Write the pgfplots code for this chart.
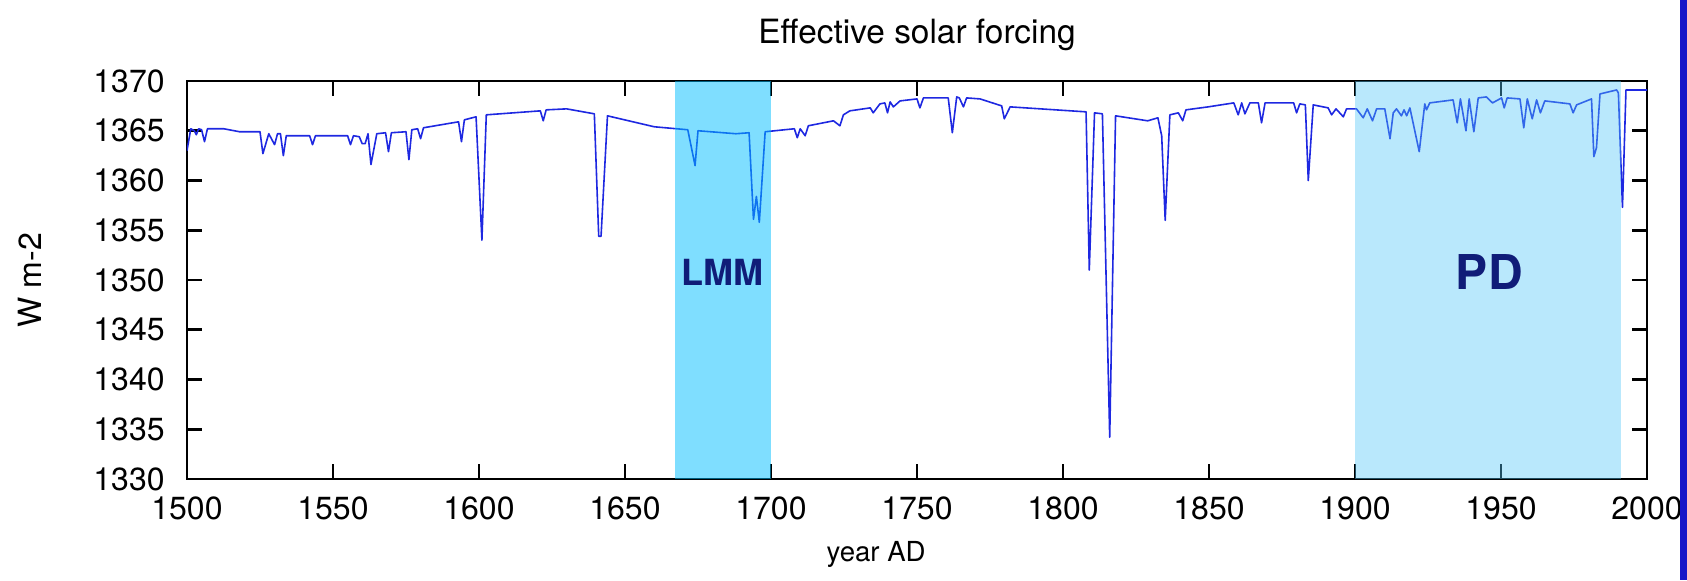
\documentclass[border=0pt]{standalone}
\usepackage{fontspec}
\setmainfont{TeX Gyre Heros}
\usepackage{pgfplots}
\pgfplotsset{compat=1.18}

\definecolor{curveblue}{RGB}{30,40,225}
\definecolor{lmmshade}{RGB}{0,190,255}
\definecolor{pdshade}{RGB}{80,197,247}
\definecolor{labelnavy}{RGB}{16,28,120}
\definecolor{stripblue}{RGB}{22,22,200}

\begin{document}
\begin{tikzpicture}
\useasboundingbox (-93.5pt,-50.5pt) rectangle (750pt,239.5pt);
\begin{axis}[
    at={(0,0)}, anchor=south west,
    width=730pt, height=199pt, scale only axis,
    xmin=1500, xmax=2000, ymin=1330, ymax=1370,
    xtick={1500,1550,...,2000},
    ytick={1330,1335,...,1370},
    tick align=inside,
    major tick length=7.5pt,
    axis line style={line width=1.3pt},
    tick style={black, line width=1.3pt},
    /pgf/number format/1000 sep={},
    /pgf/number format/assume math mode=true,
    ticklabel style={font=\fontsize{16}{19}\selectfont},
    xticklabel style={anchor=center, inner sep=0pt, yshift=-14.5pt},
    yticklabel style={anchor=east, inner sep=0pt, xshift=-11pt},
    title={Effective solar forcing},
    title style={at={(axis description cs:0.5,1.1156)}, anchor=center, yshift=-6pt, font=\fontsize{16.7}{19}\selectfont},
    xlabel={year AD},
    xlabel style={at={(axis description cs:0.472,-0.1884)}, anchor=center, font=\fontsize{13.8}{16}\selectfont},
    ylabel={W m-2},
    ylabel style={at={(axis description cs:-0.1075,0.5)}, anchor=center, font=\fontsize{16}{19}\selectfont},
]
% solar forcing series
\addplot[curveblue, line width=0.8pt, line join=round] coordinates {
(1500,1363.0) (1501.3,1365.2) (1502.5,1365.0) (1503.2,1364.6) (1504,1365.2)
(1505,1365.1) (1506,1363.9) (1507,1365.2) (1512.6,1365.2) (1518,1364.9)
(1525,1364.9) (1526,1362.7) (1528,1364.7) (1530,1363.6) (1531,1364.7)
(1532,1364.7) (1533,1362.5) (1534,1364.5) (1542,1364.5) (1543,1363.6)
(1544,1364.5) (1555,1364.5) (1556,1363.6) (1557,1364.5) (1559,1364.4)
(1560,1363.7) (1561,1363.7) (1562,1364.7) (1563,1361.6) (1565,1364.7)
(1568,1364.8) (1569,1362.9) (1570,1364.8) (1575,1364.9) (1576,1362.1)
(1577,1365.1) (1579,1365.2) (1580,1364.2) (1581,1365.3) (1593,1365.9)
(1594,1363.9) (1595,1366.1) (1599,1366.4) (1601,1354.0) (1602.5,1366.6)
(1621,1367.0) (1622,1366.0) (1623,1367.1) (1630,1367.2) (1639.5,1366.7)
(1641,1354.4) (1641.8,1354.4) (1644,1366.5) (1660,1365.4) (1671.5,1365.1)
(1674,1361.5) (1675,1365.0) (1688,1364.7) (1692.5,1364.8) (1694,1356.1)
(1695,1358.4) (1696,1355.8) (1698,1364.9) (1708,1365.2) (1709,1364.3)
(1710,1365.2) (1711.7,1364.5) (1712.8,1365.5) (1721.4,1366.0) (1723.6,1365.5)
(1724.8,1366.6) (1727,1367.0) (1734,1367.3) (1735,1366.8) (1737.3,1367.7)
(1739,1367.8) (1739.9,1366.8) (1740.8,1367.9) (1741.9,1367.4) (1744.2,1368.0)
(1750,1368.2) (1751,1367.3) (1752.2,1368.3) (1760.7,1368.3) (1762.1,1364.8)
(1763.6,1368.4) (1764.5,1368.3) (1765.9,1367.4) (1767,1368.3) (1771.6,1368.2)
(1779,1367.5) (1779.9,1366.2) (1781.9,1367.4) (1807.9,1366.9) (1809,1351.0)
(1810.8,1366.8) (1813.5,1366.7) (1816,1334.2) (1818,1366.5) (1829,1366.0)
(1832.5,1366.3) (1833.8,1364.5) (1835,1356.0) (1836.6,1366.6) (1839.5,1366.8)
(1841,1366.0) (1842.1,1367.1) (1849.7,1367.4) (1858.5,1367.8) (1860,1366.6)
(1861.2,1367.8) (1862.3,1366.7) (1864,1367.8) (1866.9,1367.8) (1868,1365.8)
(1869.2,1367.8) (1879,1367.8) (1880,1366.8) (1881.1,1367.7) (1883,1367.6)
(1884,1360.0) (1885.7,1367.6) (1890.8,1367.3) (1892,1366.6) (1893.5,1367.2)
(1896,1366.4) (1897.1,1367.2) (1900.5,1367.2) (1902.8,1366.3) (1904.2,1367.2)
(1906,1366.0) (1907.4,1367.2) (1910.2,1367.2) (1912,1364.2) (1913.1,1366.8)
(1914.2,1367.2) (1915.9,1366.5) (1916.8,1367.1) (1917.7,1366.5) (1918.8,1367.3)
(1922,1362.9) (1923.9,1367.7) (1924.5,1367.1) (1925.6,1367.8) (1933.6,1368.1)
(1935,1365.8) (1936.1,1368.2) (1938,1365.0) (1939.1,1368.2) (1940.7,1364.9)
(1942.2,1368.3) (1945,1368.4) (1947.1,1367.8) (1950.2,1368.3) (1951.1,1367.3)
(1952.1,1368.3) (1956.5,1368.2) (1957.8,1365.3) (1959,1368.2) (1960.7,1366.2)
(1962.2,1368.1) (1963.5,1366.8) (1965,1368.0) (1973.6,1367.7) (1974.7,1366.8)
(1975.9,1367.6) (1981,1368.2) (1981.8,1362.4) (1982.7,1363.3) (1983.9,1368.7)
(1989.6,1369.1) (1990.2,1368.8) (1991.6,1357.3) (1992.8,1369.1) (2000,1369.1)
};
% shaded periods (LMM and present day), laid over the curve
\addplot[draw=none, fill=lmmshade, fill opacity=0.5] coordinates {
(1667,1330) (1667,1370) (1700,1370) (1700,1330)} -- cycle;
\addplot[draw=none, fill=pdshade, fill opacity=0.4] coordinates {
(1900,1330) (1900,1370) (1991,1370) (1991,1330)} -- cycle;
\node[font=\bfseries\fontsize{18}{20}\selectfont, text=labelnavy] at (axis cs:1683.5,1350.8) {LMM};
\node[font=\bfseries\fontsize{24}{26}\selectfont, text=labelnavy] at (axis cs:1946,1350.8) {PD};
\end{axis}
\fill[stripblue] (746.5pt,-50.5pt) rectangle (750pt,239.5pt);
\end{tikzpicture}
\end{document}
